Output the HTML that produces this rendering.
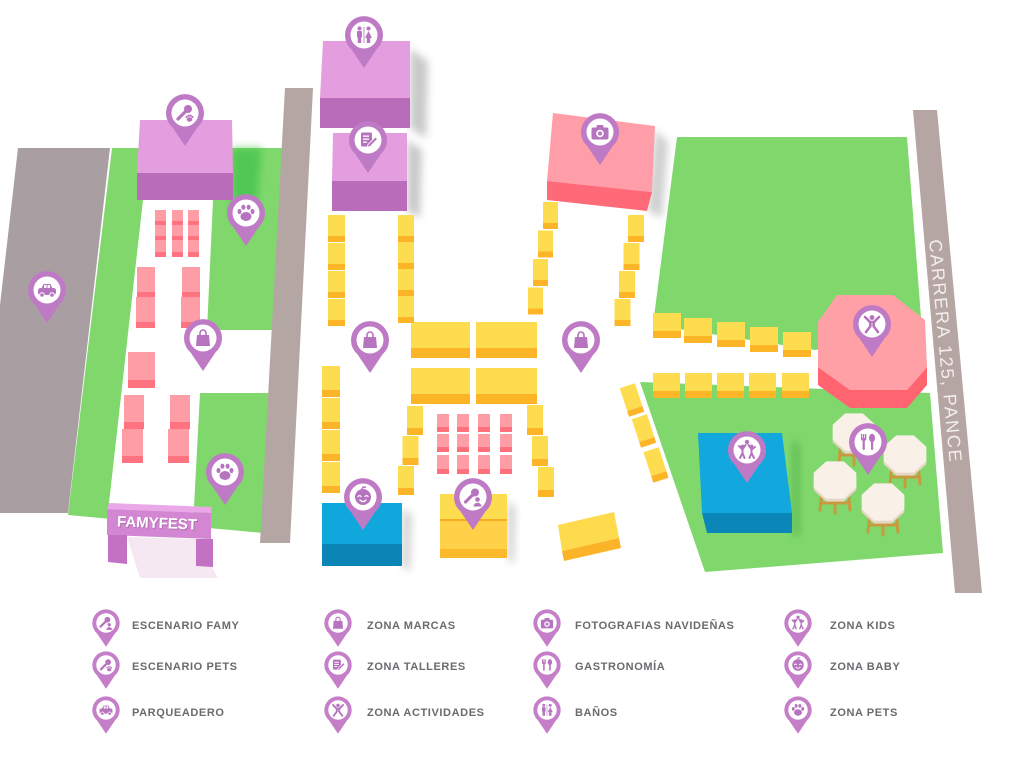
<!DOCTYPE html>
<html><head><meta charset="utf-8"><style>
html,body{margin:0;padding:0;background:#fff;}
svg{display:block;}
.lg{font-family:"Liberation Sans",sans-serif;font-weight:bold;font-size:11px;fill:#6a6a6f;letter-spacing:0.6px;}
</style></head><body>
<svg width="1024" height="767" viewBox="0 0 1024 767" xmlns="http://www.w3.org/2000/svg">
<defs>
<filter id="bl" x="-50%" y="-50%" width="200%" height="200%"><feGaussianBlur stdDeviation="4"/></filter>
<path id="pin" d="M0,33 L-12.5,14.4 A19,19 0 1 1 12.5,14.4 Z"/>
<g id="i-car" fill="#b673be">
 <path d="M-5.5,-1.5 L-3.5,-6 H3.5 L5.5,-1.5 Z"/>
 <rect x="-9" y="-2" width="18" height="7" rx="2.5"/>
 <rect x="-3" y="-5" width="2.5" height="3" fill="#fff"/><rect x="0.5" y="-5" width="2.5" height="3" fill="#fff"/>
 <circle cx="-5" cy="5" r="2.3" stroke="#fff" stroke-width="1"/>
 <circle cx="5" cy="5" r="2.3" stroke="#fff" stroke-width="1"/>
</g>
<g id="i-bag" fill="#b673be">
 <path d="M-6,-3 H6 L7,8 H-7 Z"/>
 <path d="M-3,-3 V-5 A3,3 0 0 1 3,-5 V-3" fill="none" stroke="#b673be" stroke-width="1.6"/>
</g>
<g id="i-paw" fill="#b673be">
 <ellipse cx="0" cy="3.5" rx="5.5" ry="4.5"/>
 <ellipse cx="-6.5" cy="-1.5" rx="2" ry="2.6"/>
 <ellipse cx="-2.6" cy="-5.8" rx="2" ry="2.6"/>
 <ellipse cx="2.6" cy="-5.8" rx="2" ry="2.6"/>
 <ellipse cx="6.5" cy="-1.5" rx="2" ry="2.6"/>
</g>
<g id="i-cam" fill="#b673be">
 <rect x="-8.5" y="-4.5" width="17" height="12" rx="2"/>
 <rect x="-3.5" y="-7" width="7" height="3" rx="1"/>
 <circle cx="0" cy="1.5" r="3.8" fill="#fff"/>
 <circle cx="0" cy="1.5" r="2"/>
</g>
<g id="i-wc" fill="#b673be">
 <circle cx="-4.5" cy="-6.5" r="2"/>
 <rect x="-7" y="-4" width="5" height="6.5" rx="1"/>
 <rect x="-6.2" y="2" width="3.4" height="6"/>
 <circle cx="4.5" cy="-6.5" r="2"/>
 <path d="M4.5,-4 L8,3 H1 Z"/>
 <rect x="2.8" y="3" width="3.4" height="5"/>
 <rect x="-0.4" y="-8" width="0.8" height="16"/>
</g>
<g id="i-note" fill="#b673be">
 <rect x="-7" y="-7.5" width="11" height="14" rx="1.5"/>
 <rect x="-5" y="-4.5" width="6" height="1.3" fill="#fff"/>
 <rect x="-5" y="-1.5" width="6" height="1.3" fill="#fff"/>
 <rect x="-5" y="1.5" width="4" height="1.3" fill="#fff"/>
 <path d="M7.5,-3 L9.5,-1 L2,6.5 L-0.5,7 L0,4.5 Z" stroke="#fff" stroke-width="0.8"/>
</g>
<g id="i-act">
 <circle cx="0" cy="-6.5" r="2.4" fill="#b673be"/>
 <path d="M-7,-7 L-2,-2 H2 L7,-7 M-2,-2 L-1.5,2 L-6,8 M2,-2 L1.5,2 L6,8" fill="none" stroke="#b673be" stroke-width="2.6" stroke-linecap="round" stroke-linejoin="round"/>
</g>
<g id="i-micpaw">
 <circle cx="3" cy="-4" r="4" fill="#b673be"/>
 <path d="M0.5,-1.5 L-7,6" stroke="#b673be" stroke-width="3.2" stroke-linecap="round"/>
 <g fill="#b673be"><ellipse cx="4.5" cy="6.5" rx="2.8" ry="2.2"/><circle cx="1.6" cy="4" r="1.1"/><circle cx="3.5" cy="2.6" r="1.1"/><circle cx="5.6" cy="2.6" r="1.1"/><circle cx="7.4" cy="4" r="1.1"/></g>
</g>
<g id="i-micper">
 <circle cx="2" cy="-4.5" r="4" fill="#b673be"/>
 <path d="M-0.5,-2 L-7.5,5" stroke="#b673be" stroke-width="3.2" stroke-linecap="round"/>
 <circle cx="4.5" cy="2.5" r="2.3" fill="#b673be"/>
 <path d="M0.5,9.5 A4,3.8 0 0 1 8.5,9.5 Z" fill="#b673be"/>
</g>
<g id="i-baby">
 <circle r="8" fill="#b673be"/>
 <path d="M-5,-0.5 q1.5,-1.8 3,0 M2,-0.5 q1.5,-1.8 3,0 M-3,3 q3,3.2 6,0" fill="none" stroke="#fff" stroke-width="1.3" stroke-linecap="round"/>
 <path d="M-1,-8 q1,-3 4,-1.5" fill="none" stroke="#b673be" stroke-width="1.5"/>
</g>
<g id="i-food" fill="#b673be">
 <rect x="-7" y="-8" width="1.3" height="5"/><rect x="-5" y="-8" width="1.3" height="5"/><rect x="-3" y="-8" width="1.3" height="5"/>
 <rect x="-7" y="-4" width="5.3" height="2.5" rx="1"/>
 <rect x="-5.4" y="-2" width="2.2" height="10" rx="1"/>
 <ellipse cx="4" cy="-4" rx="3" ry="4.2"/>
 <rect x="3" y="-1" width="2.2" height="9" rx="1"/>
</g>
<g id="i-kids">
 <circle cx="0" cy="-8" r="2.2" fill="#b673be"/>
 <circle cx="-4.5" cy="-3.5" r="1.9" fill="#b673be"/>
 <circle cx="4.5" cy="-3.5" r="1.9" fill="#b673be"/>
 <path d="M-4.5,-1.5 V3 L-7,8 M-4.5,3 L-2.5,8 M-8,-4 L-4.5,-0.5 L-1.5,-5 M4.5,-1.5 V3 L2.5,8 M4.5,3 L7,8 M1.5,-5 L4.5,-0.5 L8,-3" fill="none" stroke="#b673be" stroke-width="2" stroke-linecap="round" stroke-linejoin="round"/>
</g>
<g id="tbl">
 <path d="M-13,10 L-15,30 M13,10 L15,30 M0,14 L0,33 M-14,23 H14" stroke="#c9993e" stroke-width="3" fill="none" stroke-linecap="round"/>
 <path d="M21.3,-4.3 L8.8,-15.6 L-8.8,-15.6 L-21.3,-4.3 L-21.3,10.3 L-8.8,21.6 L8.8,21.6 L21.3,10.3 Z" fill="#e6d7c5"/>
 <path d="M21.3,-7.3 L8.8,-18.6 L-8.8,-18.6 L-21.3,-7.3 L-21.3,7.3 L-8.8,18.6 L8.8,18.6 L21.3,7.3 Z" fill="#f9f1e8"/>
</g>
</defs>

<!-- parking -->
<polygon points="18,148 110,148 68,513 0,513 0,305" fill="#a99fa3"/>
<!-- left green -->
<polygon points="112,148 282,148 263,533 68,515" fill="#80d86d"/>
<polygon points="232,148 262,148 255,230 232,215" fill="#3cc24a" opacity="0.7" filter="url(#bl)"/>
<!-- walkway -->
<polygon points="143,200 213,200 207,330 282,330 279,393 200,393 192,545 105,545 108,512" fill="#fff"/>
<!-- left road -->
<polygon points="285,88 313,88 290,543 260,543" fill="#b4a6a3"/>

<!-- shadows -->
<polygon points="410,48 428,62 426,138 410,128" fill="#888" opacity="0.45" filter="url(#bl)"/>
<polygon points="407,140 422,150 420,218 407,211" fill="#888" opacity="0.45" filter="url(#bl)"/>
<polygon points="655,130 668,142 662,218 648,211" fill="#888" opacity="0.4" filter="url(#bl)"/>
<polygon points="402,508 412,515 410,572 402,566" fill="#888" opacity="0.35" filter="url(#bl)"/>
<polygon points="507,500 516,508 514,565 507,558" fill="#888" opacity="0.35" filter="url(#bl)"/>

<!-- escenario pets building -->
<polygon points="140,120 232,120 233,173 137,173" fill="#e49ee0"/>
<polygon points="137,173 233,173 233,200 137,200" fill="#b86cba"/>
<!-- baños building -->
<polygon points="323,41 410,41 410,98 320,98" fill="#e49ee0"/>
<polygon points="320,98 410,98 410,128 320,128" fill="#b86cba"/>
<!-- talleres building -->
<polygon points="333,133 407,133 407,181 332,181" fill="#e49ee0"/>
<polygon points="332,181 407,181 407,211 332,211" fill="#b86cba"/>
<!-- foto building -->
<polygon points="553,113 655,126 652,192 547,181" fill="#ff9ea8"/>
<polygon points="547,181 652,192 647,211 547,200" fill="#ff6a78"/>

<!-- pink blocks left -->
<g>
<g fill="#ff9da6">
<rect x="155" y="210" width="11" height="11"/><rect x="172" y="210" width="11" height="11"/><rect x="188" y="210" width="11" height="11"/>
<rect x="155" y="225" width="11" height="11"/><rect x="172" y="225" width="11" height="11"/><rect x="188" y="225" width="11" height="11"/>
<rect x="155" y="240" width="11" height="12"/><rect x="172" y="240" width="11" height="12"/><rect x="188" y="240" width="11" height="12"/>
<rect x="137" y="267" width="18" height="25"/><rect x="136" y="297" width="19" height="25"/>
<rect x="182" y="267" width="18" height="25"/><rect x="181" y="297" width="19" height="25"/>
<rect x="128" y="352" width="27" height="28"/>
<rect x="124" y="395" width="20" height="27"/><rect x="122" y="429" width="21" height="27"/>
<rect x="170" y="395" width="20" height="27"/><rect x="168" y="429" width="21" height="27"/>
</g>
<g fill="#ff7380">
<rect x="155" y="221" width="11" height="4"/><rect x="172" y="221" width="11" height="4"/><rect x="188" y="221" width="11" height="4"/>
<rect x="155" y="236" width="11" height="4"/><rect x="172" y="236" width="11" height="4"/><rect x="188" y="236" width="11" height="4"/>
<rect x="155" y="252" width="11" height="5"/><rect x="172" y="252" width="11" height="5"/><rect x="188" y="252" width="11" height="5"/>
<rect x="137" y="292" width="18" height="5"/><rect x="136" y="322" width="19" height="6"/>
<rect x="182" y="292" width="18" height="5"/><rect x="181" y="322" width="19" height="6"/>
<rect x="128" y="380" width="27" height="8"/>
<rect x="124" y="422" width="20" height="7"/><rect x="122" y="456" width="21" height="7"/>
<rect x="170" y="422" width="20" height="7"/><rect x="168" y="456" width="21" height="7"/>
</g>
</g>

<!-- yellow blocks center -->
<g fill="#fedc50">
<rect x="328" y="215" width="17" height="21"/><rect x="328" y="243" width="17" height="21"/><rect x="328" y="271" width="17" height="21"/><rect x="328" y="299" width="17" height="21"/>
<rect x="398" y="215" width="16" height="21"/><rect x="398" y="242" width="16" height="21"/><rect x="398" y="269" width="16" height="21"/><rect x="398" y="296" width="16" height="21"/>
<rect x="543" y="202" width="15" height="21"/><rect x="538" y="230.5" width="15" height="21"/><rect x="533" y="259" width="15" height="21"/><rect x="528" y="287.5" width="15" height="21"/>
<rect x="628" y="215" width="16" height="21"/><rect x="623.5" y="243" width="16" height="21"/><rect x="619" y="271" width="16" height="21"/><rect x="614.5" y="299" width="16" height="21"/>
<rect x="411" y="322" width="59" height="26"/><rect x="476" y="322" width="61" height="26"/>
<rect x="411" y="368" width="59" height="26"/><rect x="476" y="368" width="61" height="26"/>
<rect x="322" y="366" width="18" height="24"/><rect x="322" y="398" width="18" height="24"/><rect x="322" y="430" width="18" height="24"/><rect x="322" y="462" width="18" height="24"/>
<rect x="407" y="406" width="16" height="22"/><rect x="402.5" y="436" width="16" height="22"/><rect x="398" y="466" width="16" height="22"/>
<rect x="527" y="405" width="16" height="23"/><rect x="532" y="436" width="16" height="23"/><rect x="538" y="467" width="16" height="23"/>
</g>
<g fill="#fcb526">
<rect x="328" y="236" width="17" height="6"/><rect x="328" y="264" width="17" height="6"/><rect x="328" y="292" width="17" height="6"/><rect x="328" y="320" width="17" height="6"/>
<rect x="398" y="236" width="16" height="6"/><rect x="398" y="263" width="16" height="6"/><rect x="398" y="290" width="16" height="6"/><rect x="398" y="317" width="16" height="6"/>
<rect x="543" y="223" width="15" height="6"/><rect x="538" y="251.5" width="15" height="6"/><rect x="533" y="280" width="15" height="6"/><rect x="528" y="308.5" width="15" height="6"/>
<rect x="628" y="236" width="16" height="6"/><rect x="623.5" y="264" width="16" height="6"/><rect x="619" y="292" width="16" height="6"/><rect x="614.5" y="320" width="16" height="6"/>
<rect x="411" y="348" width="59" height="10"/><rect x="476" y="348" width="61" height="10"/>
<rect x="411" y="394" width="59" height="10"/><rect x="476" y="394" width="61" height="10"/>
<rect x="322" y="390" width="18" height="7"/><rect x="322" y="422" width="18" height="7"/><rect x="322" y="454" width="18" height="7"/><rect x="322" y="486" width="18" height="7"/>
<rect x="407" y="428" width="16" height="7"/><rect x="402.5" y="458" width="16" height="7"/><rect x="398" y="488" width="16" height="7"/>
<rect x="527" y="428" width="16" height="7"/><rect x="532" y="459" width="16" height="7"/><rect x="538" y="490" width="16" height="7"/>
</g>
<!-- pink grid center -->
<g fill="#ff9da6">
<rect x="437" y="414" width="12" height="13"/><rect x="457" y="414" width="12" height="13"/><rect x="478" y="414" width="12" height="13"/><rect x="500" y="414" width="12" height="13"/>
<rect x="437" y="434" width="12" height="13"/><rect x="457" y="434" width="12" height="13"/><rect x="478" y="434" width="12" height="13"/><rect x="500" y="434" width="12" height="13"/>
<rect x="437" y="455" width="12" height="14"/><rect x="457" y="455" width="12" height="14"/><rect x="478" y="455" width="12" height="14"/><rect x="500" y="455" width="12" height="14"/>
</g>
<g fill="#ff6f7c">
<rect x="437" y="427" width="12" height="5"/><rect x="457" y="427" width="12" height="5"/><rect x="478" y="427" width="12" height="5"/><rect x="500" y="427" width="12" height="5"/>
<rect x="437" y="447" width="12" height="5"/><rect x="457" y="447" width="12" height="5"/><rect x="478" y="447" width="12" height="5"/><rect x="500" y="447" width="12" height="5"/>
<rect x="437" y="469" width="12" height="5"/><rect x="457" y="469" width="12" height="5"/><rect x="478" y="469" width="12" height="5"/><rect x="500" y="469" width="12" height="5"/>
</g>
<!-- baby blue -->
<rect x="322" y="503" width="80" height="41" fill="#10a7dc"/>
<rect x="322" y="544" width="80" height="22" fill="#0a85b5"/>
<!-- famy yellow -->
<rect x="440" y="494" width="67" height="26" fill="#fedc50"/>
<rect x="440" y="520" width="67" height="38" fill="#fed148"/>
<rect x="440" y="519" width="67" height="2" fill="#f5ad22"/>
<rect x="440" y="549" width="67" height="9" fill="#fcb92b"/>
<!-- small rotated -->
<polygon points="558,525 614,512 619,538 562,551" fill="#fedb4d"/>
<polygon points="562,551 619,538 621,548 564,561" fill="#fbb327"/>

<!-- right greens -->
<polygon points="677,137 907,137 922,330 815,350 653,325" fill="#80d86d"/>
<polygon points="640,382 930,393 943,553 705,572" fill="#80d86d"/>
<!-- yellow rows right -->
<g fill="#fedc50">
<rect x="653" y="313" width="28" height="18"/><rect x="684" y="318" width="28" height="18"/><rect x="717" y="322" width="28" height="18"/><rect x="750" y="327" width="28" height="18"/><rect x="783" y="332" width="28" height="18"/>
<rect x="653" y="373" width="27" height="18"/><rect x="685" y="373" width="27" height="18"/><rect x="717" y="373" width="27" height="18"/><rect x="749" y="373" width="27" height="18"/><rect x="782" y="373" width="27" height="18"/>
</g>
<g fill="#fcb526">
<rect x="653" y="331" width="28" height="7"/><rect x="684" y="336" width="28" height="7"/><rect x="717" y="340" width="28" height="7"/><rect x="750" y="345" width="28" height="7"/><rect x="783" y="350" width="28" height="7"/>
<rect x="653" y="391" width="27" height="7"/><rect x="685" y="391" width="27" height="7"/><rect x="717" y="391" width="27" height="7"/><rect x="749" y="391" width="27" height="7"/><rect x="782" y="391" width="27" height="7"/>
</g>
<g transform="translate(632,400) rotate(-18)"><rect x="-8" y="-15" width="16" height="24" fill="#fedc50"/><rect x="-8" y="9" width="16" height="6" fill="#fcb526"/></g>
<g transform="translate(644,431) rotate(-18)"><rect x="-8" y="-15" width="16" height="24" fill="#fedc50"/><rect x="-8" y="9" width="16" height="6" fill="#fcb526"/></g>
<g transform="translate(656,465) rotate(-18)"><rect x="-8" y="-16" width="16" height="25" fill="#fedc50"/><rect x="-8" y="9" width="16" height="7" fill="#fcb526"/></g>

<!-- octagon -->
<polygon points="818,367 850,390 907,390 927,367 927,385 907,408 850,408 818,385" fill="#ff6470"/>
<polygon points="837,295 893,295 925,320 927,367 907,390 850,390 818,367 818,322" fill="#ff9fa6"/>

<!-- kids blue -->
<polygon points="792,438 800,446 800,538 792,533" fill="#3a9a38" opacity="0.4" filter="url(#bl)"/>
<polygon points="698,433 782,433 792,513 702,513" fill="#12a8dd"/>
<polygon points="702,513 792,513 792,533 707,533" fill="#0a87b8"/>

<!-- tables -->
<use href="#tbl" transform="translate(854,432)"/>
<use href="#tbl" transform="translate(905,454)"/>
<use href="#tbl" transform="translate(835,480)"/>
<use href="#tbl" transform="translate(883,502)"/>

<!-- right road -->
<polygon points="913,110 937,110 982,593 955,593" fill="#b5a6a3"/>
<text transform="translate(929,240) rotate(84.7)" font-family="Liberation Sans, sans-serif" font-size="18" fill="#f3eeee" textLength="223" lengthAdjust="spacing">CARRERA 125, PANCE</text>

<!-- arch -->
<polygon points="127,537 196,539 218,578 140,578" fill="#f6e8f2"/>
<polygon points="109,503 212,507 211,513 107,509" fill="#eaa8e8"/>
<polygon points="107,509 211,513 211,539 107,535" fill="#d387d3"/>
<polygon points="108,535 127,535 127,564 108,562" fill="#c271c3"/>
<polygon points="196,539 213,539 213,567 196,566" fill="#c271c3"/>
<text x="158" y="529" text-anchor="middle" transform="rotate(2.3 158 525)" font-family="Liberation Sans, sans-serif" font-weight="bold" font-size="15" fill="#8d5a8e" opacity="0.5">FAMYFEST</text>
<text x="157" y="528" text-anchor="middle" transform="rotate(2.3 158 525)" font-family="Liberation Sans, sans-serif" font-weight="bold" font-size="15" fill="#fff">FAMYFEST</text>

<!-- map pins -->
<g fill="#bf7ac5">
<g transform="translate(364,35)"><use href="#pin"/><circle r="13.5" fill="#fff"/><use href="#i-wc"/></g>
<g transform="translate(185,113)"><use href="#pin"/><circle r="13.5" fill="#fff"/><use href="#i-micpaw"/></g>
<g transform="translate(368,140)"><use href="#pin"/><circle r="13.5" fill="#fff"/><use href="#i-note"/></g>
<g transform="translate(600,132)"><use href="#pin"/><circle r="13.5" fill="#fff"/><use href="#i-cam"/></g>
<g transform="translate(246,213)"><use href="#pin"/><circle r="13.5" fill="#fff"/><use href="#i-paw"/></g>
<g transform="translate(47,290)"><use href="#pin"/><circle r="13.5" fill="#fff"/><use href="#i-car"/></g>
<g transform="translate(203,338)"><use href="#pin"/><circle r="13.5" fill="#fff"/><use href="#i-bag"/></g>
<g transform="translate(370,340)"><use href="#pin"/><circle r="13.5" fill="#fff"/><use href="#i-bag"/></g>
<g transform="translate(581,340)"><use href="#pin"/><circle r="13.5" fill="#fff"/><use href="#i-bag"/></g>
<g transform="translate(872,324)"><use href="#pin"/><circle r="13.5" fill="#fff"/><use href="#i-act"/></g>
<g transform="translate(868,442)"><use href="#pin"/><circle r="13.5" fill="#fff"/><use href="#i-food"/></g>
<g transform="translate(747,450)"><use href="#pin"/><circle r="13.5" fill="#fff"/><use href="#i-kids"/></g>
<g transform="translate(225,472)"><use href="#pin"/><circle r="13.5" fill="#fff"/><use href="#i-paw"/></g>
<g transform="translate(363,497)"><use href="#pin"/><circle r="13.5" fill="#fff"/><use href="#i-baby"/></g>
<g transform="translate(473,497)"><use href="#pin"/><circle r="13.5" fill="#fff"/><use href="#i-micper"/></g>
</g>

<!-- legend -->
<g fill="#c57fc9">
<g transform="translate(106,623) scale(0.72)"><use href="#pin"/><circle r="13.5" fill="#fff"/><use href="#i-micper"/></g>
<g transform="translate(106,665) scale(0.72)"><use href="#pin"/><circle r="13.5" fill="#fff"/><use href="#i-micpaw"/></g>
<g transform="translate(106,710) scale(0.72)"><use href="#pin"/><circle r="13.5" fill="#fff"/><use href="#i-car"/></g>
<g transform="translate(338,623) scale(0.72)"><use href="#pin"/><circle r="13.5" fill="#fff"/><use href="#i-bag"/></g>
<g transform="translate(338,665) scale(0.72)"><use href="#pin"/><circle r="13.5" fill="#fff"/><use href="#i-note"/></g>
<g transform="translate(338,710) scale(0.72)"><use href="#pin"/><circle r="13.5" fill="#fff"/><use href="#i-act"/></g>
<g transform="translate(547,623) scale(0.72)"><use href="#pin"/><circle r="13.5" fill="#fff"/><use href="#i-cam"/></g>
<g transform="translate(547,665) scale(0.72)"><use href="#pin"/><circle r="13.5" fill="#fff"/><use href="#i-food"/></g>
<g transform="translate(547,710) scale(0.72)"><use href="#pin"/><circle r="13.5" fill="#fff"/><use href="#i-wc"/></g>
<g transform="translate(798,623) scale(0.72)"><use href="#pin"/><circle r="13.5" fill="#fff"/><use href="#i-kids"/></g>
<g transform="translate(798,665) scale(0.72)"><use href="#pin"/><circle r="13.5" fill="#fff"/><use href="#i-baby"/></g>
<g transform="translate(798,710) scale(0.72)"><use href="#pin"/><circle r="13.5" fill="#fff"/><use href="#i-paw"/></g>
</g>
<text class="lg" x="132" y="629">ESCENARIO FAMY</text>
<text class="lg" x="132" y="670">ESCENARIO PETS</text>
<text class="lg" x="132" y="716">PARQUEADERO</text>
<text class="lg" x="367" y="629">ZONA MARCAS</text>
<text class="lg" x="367" y="670">ZONA TALLERES</text>
<text class="lg" x="367" y="716">ZONA ACTIVIDADES</text>
<text class="lg" x="575" y="629">FOTOGRAFIAS NAVIDEÑAS</text>
<text class="lg" x="575" y="670">GASTRONOMÍA</text>
<text class="lg" x="575" y="716">BAÑOS</text>
<text class="lg" x="830" y="629">ZONA KIDS</text>
<text class="lg" x="830" y="670">ZONA BABY</text>
<text class="lg" x="830" y="716">ZONA PETS</text>
</svg>
</body></html>
